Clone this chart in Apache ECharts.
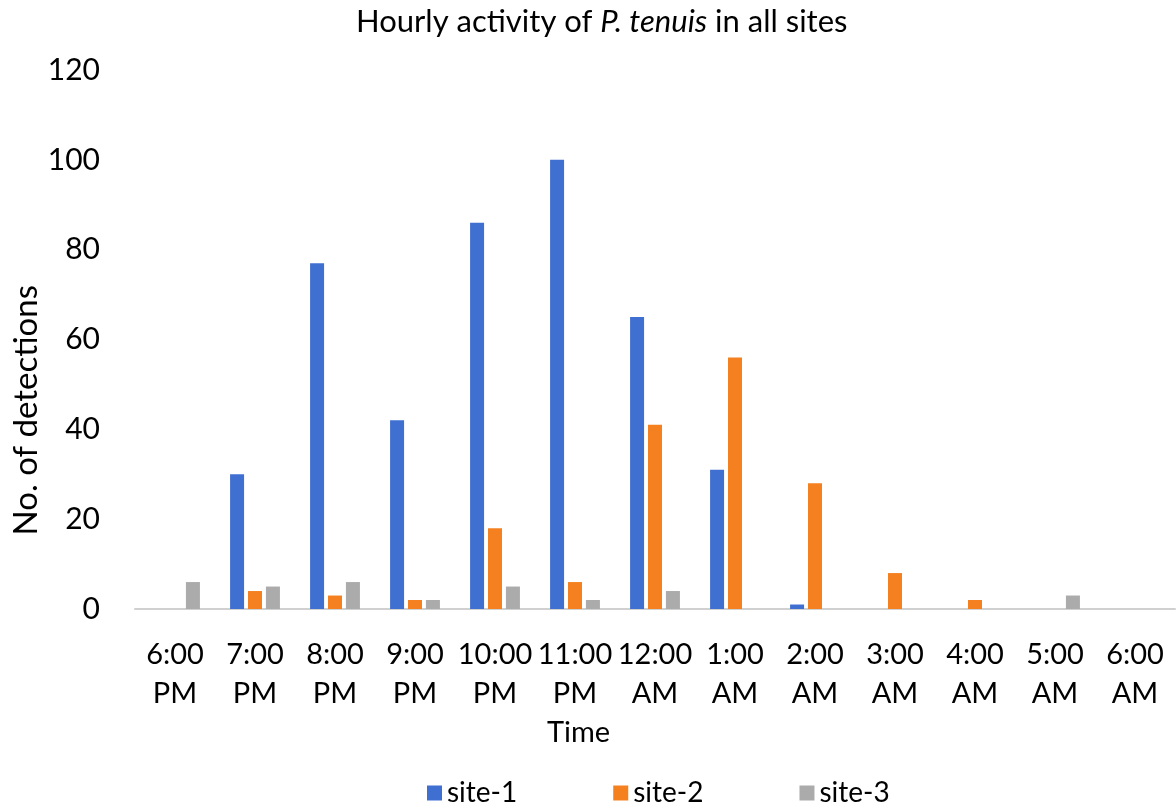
<!DOCTYPE html>
<html><head><meta charset="utf-8">
<script src="https://cdn.jsdelivr.net/npm/echarts@6/dist/echarts.min.js"></script>
<style>html,body{margin:0;padding:0;background:#fff}#c{width:1176px;height:805px}</style>
</head><body><div id="c"></div>
<script>
const categories = ['6:00\nPM','7:00\nPM','8:00\nPM','9:00\nPM','10:00\nPM','11:00\nPM','12:00\nAM','1:00\nAM','2:00\nAM','3:00\nAM','4:00\nAM','5:00\nAM','6:00\nAM'];
const site1 = [0,30,77,42,86,100,65,31,1,0,0,0,0];
const site2 = [0,4,3,2,18,6,41,56,28,8,2,0,0];
const site3 = [6,5,6,2,5,2,4,0,0,0,0,3,0];
const yTicks = [0,20,40,60,80,100,120];

const FONT = 'Lato';
const chart = echarts.init(document.getElementById('c'));
const mk = (name, data, color) => ({
  name, type:'bar', data, barWidth:14, barGap:'28%',
  itemStyle:{color, borderWidth:0}
});
chart.setOption({
  animation:false,
  textStyle:{fontFamily:FONT},
  title:{
    text:'{n|Hourly activity of }{i|P. tenuis}{n| in all sites}',
    left:356, top:6, padding:0,
    textStyle:{fontWeight:'normal', rich:{
      n:{fontFamily:FONT,fontSize:31,fontWeight:'normal',color:'#000'},
      i:{fontFamily:FONT,fontSize:31,fontWeight:'normal',color:'#000',fontStyle:'italic'}
    }}
  },
  legend:{
    top:774, left:422, itemGap:96, itemWidth:15, itemHeight:15,
    icon:'rect',
    textStyle:{fontFamily:FONT,fontSize:28,color:'#000'},
    data:['site-1','site-2','site-3']
  },
  grid:{left:135, right:1, top:70, bottom:196, containLabel:false},
  xAxis:{
    type:'category', data:categories,
    axisLine:{lineStyle:{color:'#d0d0d0',width:2}},
    axisTick:{show:false},
    axisLabel:{fontFamily:FONT,fontSize:29,color:'#000',lineHeight:39,margin:26,interval:0}
  },
  yAxis:{
    type:'value', min:0, max:120, interval:20,
    axisLine:{show:false}, axisTick:{show:false},
    splitLine:{show:false},
    axisLabel:{fontFamily:FONT,fontSize:30,color:'#000',margin:35,
      formatter:v=>yTicks.includes(v)?String(v):''}
  },
  graphic:[{
    type:'text', left:10, top:285, rotation:Math.PI/2,
    style:{text:'No. of detections', font:'33px '+FONT, fill:'#000'}
  },{
    type:'text', left:547, top:718,
    style:{text:'Time', font:'29px '+FONT, fill:'#000'}
  }],
  series:[
    mk('site-1', site1, '#3f6fd0'),
    mk('site-2', site2, '#f5801f'),
    mk('site-3', site3, '#ababab')
  ]
});
</script></body></html>
